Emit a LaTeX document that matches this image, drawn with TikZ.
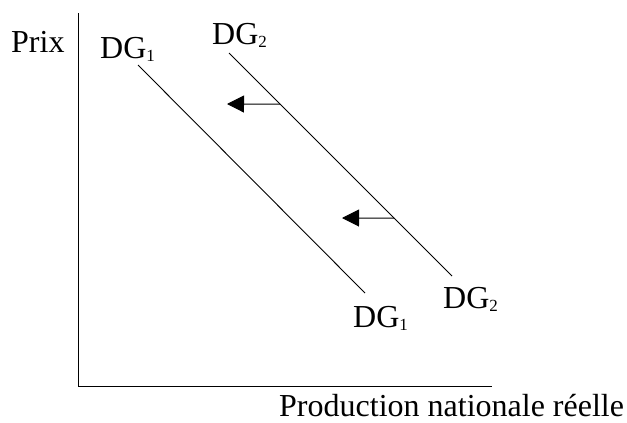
\documentclass[tikz,border=0pt]{standalone}
\usepackage{fontspec}
\setmainfont{Liberation Serif}
\usetikzlibrary{arrows.meta}
\newcommand{\sub}[1]{\raisebox{-3.5pt}{\fontsize{17}{17}\selectfont #1}}
\begin{document}
\begin{tikzpicture}[x=1pt,y=-1pt,
    lbl/.style={anchor=base west,inner sep=0pt,font=\fontsize{32}{38}\selectfont},
    shiftarrow/.style={-{Triangle[length=17pt,width=17pt]},line width=1pt}]
  \useasboundingbox (0,0) rectangle (627,423);
  % axes
  \coordinate (top) at (78,13);
  \coordinate (o) at (78,386);
  \coordinate (right) at (492,386);
  \draw[line width=0.9pt] (top) -- (o) -- (right);
  \node[lbl] (prix) at (11,52) {Prix};
  \node[lbl] (prod) at (279,416) {Production nationale réelle};
  % demand curves
  \coordinate (a1) at (138,65);
  \coordinate (b1) at (365,293);
  \coordinate (a2) at (229,53);
  \coordinate (b2) at (452,276);
  \draw[line width=0.9pt] (a1) -- (b1);
  \draw[line width=0.9pt] (a2) -- (b2)
    coordinate[pos=0.229] (s1)
    coordinate[pos=0.74] (s2);
  \node[lbl] (dg1a) at (100,58) {DG\sub{1}};
  \node[lbl] (dg2a) at (212,44) {DG\sub{2}};
  \node[lbl] (dg1b) at (353,327) {DG\sub{1}};
  \node[lbl] (dg2b) at (443,308) {DG\sub{2}};
  % shifts
  \coordinate (t1) at (227,104);
  \coordinate (t2) at (342,218);
  \draw[shiftarrow] (s1) -- (t1);
  \draw[shiftarrow] (s2) -- (t2);
\end{tikzpicture}
\end{document}
